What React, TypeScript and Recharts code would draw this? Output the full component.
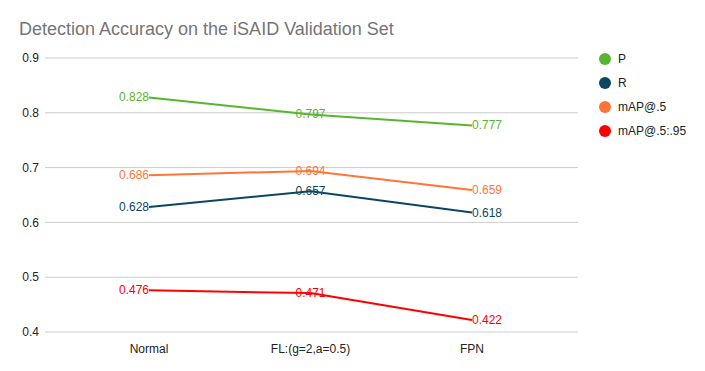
import React from "react";
import { LineChart, Line, XAxis, YAxis, CartesianGrid, LabelList } from "recharts";

const categories = ["Normal", "FL:(g=2,a=0.5)", "FPN"];
const pValues = [0.828, 0.797, 0.777];
const rValues = [0.628, 0.657, 0.618];
const map5Values = [0.686, 0.694, 0.659];
const map595Values = [0.476, 0.471, 0.422];
const yTicks = [0.4, 0.5, 0.6, 0.7, 0.8, 0.9];

const seriesDefs = [
  { key: "P", name: "P", color: "#58b530", values: pValues },
  { key: "R", name: "R", color: "#0c4660", values: rValues },
  { key: "m5", name: "mAP@.5", color: "#ff7538", values: map5Values },
  { key: "m595", name: "mAP@.5:.95", color: "#ff0000", values: map595Values },
];

const data = categories.map((c, i) => {
  const row: any = { name: c };
  seriesDefs.forEach((s) => (row[s.key] = s.values[i]));
  return row;
});

const FONT = "Arial, 'Liberation Sans', sans-serif";

const makeLabel = (color: string) => (props: any) => {
  const { x, y, value, index } = props;
  const anchor = index === 0 ? "end" : index === categories.length - 1 ? "start" : "middle";
  return (
    <text
      x={x}
      y={y}
      fill={color}
      fontSize={12}
      fontFamily={FONT}
      textAnchor={anchor}
      dominantBaseline="central"
    >
      {value.toFixed(3)}
    </text>
  );
};

export default function App() {
  return (
    <div style={{ position: "absolute", left: 0, top: 0, width: 705, height: 371, background: "#fff" }}>
      <div
        style={{
          position: "absolute",
          left: 19,
          top: 19,
          fontFamily: FONT,
          fontSize: 18,
          color: "#757575",
          whiteSpace: "nowrap",
        }}
      >
        Detection Accuracy on the iSAID Validation Set
      </div>
      <div
        style={{ position: "absolute", left: 599, top: 47, fontFamily: FONT, fontSize: 12, color: "#222" }}
      >
        {seriesDefs.map((s) => (
          <div key={s.key} style={{ display: "flex", alignItems: "center", height: 24 }}>
            <span
              style={{
                display: "inline-block",
                width: 12,
                height: 12,
                borderRadius: 6,
                background: s.color,
                marginRight: 7,
              }}
            />
            <span>{s.name}</span>
          </div>
        ))}
      </div>
      <LineChart
        width={705}
        height={371}
        data={data}
        margin={{ top: 58, right: 127, bottom: 9, left: 0 }}
      >
        <CartesianGrid vertical={false} stroke="#cccccc" />
        <XAxis
          dataKey="name"
          axisLine={false}
          tickLine={false}
          padding={{ left: 104, right: 106 }}
          height={30}
          tickMargin={6}
          tick={{ fill: "#222", fontSize: 12, fontFamily: FONT }}
        />
        <YAxis
          domain={[0.4, 0.9]}
          ticks={yTicks}
          width={45}
          axisLine={false}
          tickLine={false}
          tickSize={0}
          tickMargin={6}
          tickFormatter={(v: number) => v.toFixed(1)}
          tick={{ fill: "#222", fontSize: 12, fontFamily: FONT }}
        />
        {seriesDefs.map((s) => (
          <Line
            key={s.key}
            dataKey={s.key}
            name={s.name}
            stroke={s.color}
            strokeWidth={2}
            dot={false}
            activeDot={false}
            isAnimationActive={false}
          >
            <LabelList dataKey={s.key} content={makeLabel(s.color)} />
          </Line>
        ))}
      </LineChart>
    </div>
  );
}
